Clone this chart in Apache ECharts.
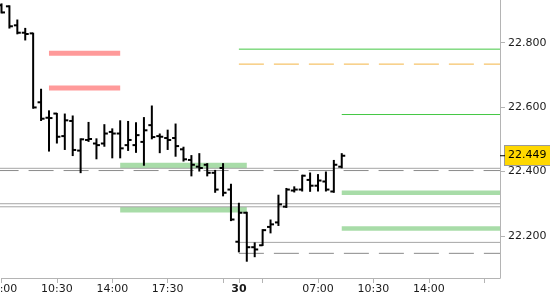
<!DOCTYPE html>
<html><head><meta charset="utf-8">
<script src="https://cdn.jsdelivr.net/npm/echarts@6/dist/echarts.min.js"></script>
<style>html,body{margin:0;padding:0;background:#fff}#c{width:550px;height:300px}</style>
</head><body><div id="c"></div>
<script>
// ---- data (30-minute OHLC bars, slot index = bar position) ----
const barOpen  = [22.916,22.913,22.854,22.831,22.829,22.615,22.567,22.580,22.510,22.557,22.465,22.498,22.487,22.487,22.523,22.518,22.482,22.482,22.492,22.544,22.510,22.504,22.504,22.469,22.436,22.415,22.421,22.396,22.411,22.344,22.182,22.272,22.165,22.171,22.228,22.242,22.291,22.341,22.344,22.374,22.356,22.369,22.338,22.415];
const barHigh  = [22.922,22.916,22.872,22.846,22.831,22.657,22.590,22.582,22.580,22.574,22.503,22.554,22.503,22.547,22.534,22.559,22.557,22.553,22.569,22.605,22.518,22.530,22.549,22.477,22.451,22.457,22.426,22.405,22.426,22.362,22.303,22.275,22.180,22.221,22.251,22.328,22.349,22.354,22.390,22.397,22.392,22.400,22.436,22.457];
const barLow   = [22.891,22.844,22.826,22.807,22.595,22.557,22.462,22.487,22.467,22.448,22.395,22.492,22.438,22.477,22.441,22.441,22.464,22.458,22.418,22.500,22.457,22.467,22.446,22.431,22.385,22.400,22.385,22.334,22.323,22.246,22.149,22.120,22.134,22.169,22.208,22.231,22.287,22.335,22.338,22.337,22.338,22.338,22.334,22.410];
const barClose = [22.894,22.851,22.831,22.827,22.599,22.564,22.566,22.508,22.559,22.467,22.500,22.501,22.482,22.518,22.518,22.472,22.498,22.513,22.528,22.507,22.508,22.498,22.479,22.438,22.421,22.411,22.396,22.344,22.334,22.251,22.272,22.165,22.158,22.218,22.236,22.298,22.344,22.344,22.387,22.356,22.372,22.344,22.421,22.449];
const slotCount = 64;
const labelSlots = [0,7,14,21,30,40,47,54];
const labelTexts = ['07:00','10:30','14:00','17:30','30','07:00','10:30','14:00'];
const tickSlots  = [0,7,14,21,28,30,33,40,47,54,61];
const boldLabel  = '30';
const lastPrice  = 22.449;
const yMin = 22.0694, yMax = 22.9326;
// levels: [startSlot, endSlot, price]
const redZones        = [[6,15,22.767],[6,15,22.659]];
const greenZonesLeft  = [[15,31,22.419],[15,31,22.281]];
const greenZonesRight = [[43,63,22.334],[43,63,22.223]];
const greenLines      = [[30,63,22.780],[43,63,22.577]];
const orangeDashed    = [[30,63,22.7335]];
const graySolid       = [[-1,63,22.410],[-1,63,22.300],[-1,63,22.2905],[30,63,22.180]];
const grayDashed      = [[-1,63,22.403],[30,63,22.146]];

// ---- chart ----
const FONT = 'DejaVu Sans';
const slots = Array.from({length: slotCount}, (_, i) => String(i));
const chart = echarts.init(document.getElementById('c'), null, {renderer: 'canvas'});

function levelSeries(name, rows, color, width, dash, z) {
  return {
    type: 'custom', name, z, silent: true, animation: false,
    data: rows,
    encode: {x: [0, 1], y: 2},
    renderItem: (p, api) => {
      const a = api.coord([api.value(0), api.value(2)]);
      const b = api.coord([api.value(1), api.value(2)]);
      return {type: 'line', shape: {x1: a[0], y1: a[1], x2: b[0], y2: b[1]},
        style: {stroke: color, lineWidth: width, lineDash: dash || null}};
    }
  };
}

const option = {
  animation: false,
  backgroundColor: '#fff',
  grid: {left: 1.5, right: 50, top: 0, bottom: 22, containLabel: false, outerBoundsMode: 'none'},
  xAxis: {
    type: 'category', data: slots, boundaryGap: false,
    axisLine: {show: true, lineStyle: {color: '#b4b4b4', width: 1}},
    axisTick: {show: true, length: 5, interval: (i) => tickSlots.includes(i), lineStyle: {color: '#b4b4b4'}},
    axisLabel: {
      show: true, margin: 6, color: '#1a1a1a', fontSize: 11, fontFamily: FONT,
      interval: (i) => labelSlots.includes(i),
      formatter: (v, i) => {
        const k = labelSlots.indexOf(Number(v));
        if (k < 0) return '';
        const t = labelTexts[k];
        return t === boldLabel ? '{b|' + t + '}' : t;
      },
      rich: {b: {fontWeight: 'bold', fontSize: 11, fontFamily: FONT, color: '#1a1a1a'}}
    },
    splitLine: {show: false}
  },
  yAxis: {
    type: 'value', position: 'right', min: yMin, max: yMax,
    splitLine: {show: false},
    axisLine: {show: true, lineStyle: {color: '#b4b4b4', width: 1}},
    axisTick: {show: true, length: 5, lineStyle: {color: '#b4b4b4'}},
    axisLabel: {margin: 8, color: '#1a1a1a', fontSize: 11, fontFamily: FONT,
      showMinLabel: false, showMaxLabel: false,
      formatter: (v) => v.toFixed(3)}
  },
  series: [
    levelSeries('redZones', redZones, '#ff9a9a', 5, null, 1),
    levelSeries('greenZonesLeft', greenZonesLeft, '#a8dca8', 5.5, null, 1),
    levelSeries('greenZonesRight', greenZonesRight, '#a8dca8', 4.5, null, 1),
    levelSeries('graySolid', graySolid, '#a6a6a6', 1, null, 2),
    levelSeries('grayDashed', grayDashed, '#8a8a8a', 1, [25, 10], 2),
    levelSeries('greenLines', greenLines, '#44c844', 1, null, 2),
    levelSeries('orangeDashed', orangeDashed, '#f3b445', 1, [25, 10], 2),
    {
      type: 'custom', name: 'ohlc', z: 10, animation: false, clip: false,
      data: barOpen.map((o, i) => [i, o, barHigh[i], barLow[i], barClose[i]]),
      encode: {x: 0, y: [1, 2, 3, 4]},
      renderItem: (p, api) => {
        const i = api.value(0);
        const pO = api.coord([i, api.value(1)]);
        const pH = api.coord([i, api.value(2)]);
        const pL = api.coord([i, api.value(3)]);
        const pC = api.coord([i, api.value(4)]);
        const x = pO[0];
        const st = {stroke: '#000', lineWidth: 2};
        return {type: 'group', children: [
          {type: 'line', shape: {x1: x, y1: pH[1], x2: x, y2: pL[1]}, style: st},
          {type: 'line', shape: {x1: x - 3.5, y1: pO[1], x2: x, y2: pO[1]}, style: st},
          {type: 'line', shape: {x1: x, y1: pC[1], x2: x + 3.5, y2: pC[1]}, style: st}
        ]};
      },
      markLine: {
        silent: true, symbol: 'none', animation: false,
        lineStyle: {color: 'transparent', width: 0},
        label: {show: true, position: 'end', distance: 5,
          formatter: () => lastPrice.toFixed(3),
          backgroundColor: '#ffd800', borderColor: '#9a9a9a', borderWidth: 1,
          padding: [4, 4, 4, 3], color: '#000', fontSize: 11, fontFamily: FONT},
        data: [{yAxis: lastPrice}]
      }
    },
    {
      type: 'custom', name: 'lastTick', z: 11, animation: false, clip: false, silent: true,
      data: [[slotCount - 1, lastPrice]],
      encode: {x: 0, y: 1},
      renderItem: (p, api) => {
        const pt = api.coord([api.value(0), api.value(1)]);
        return {type: 'line', shape: {x1: pt[0], y1: pt[1], x2: pt[0] + 5, y2: pt[1]},
          style: {stroke: '#000', lineWidth: 1}};
      }
    }
  ]
};
chart.setOption(option);
</script></body></html>
